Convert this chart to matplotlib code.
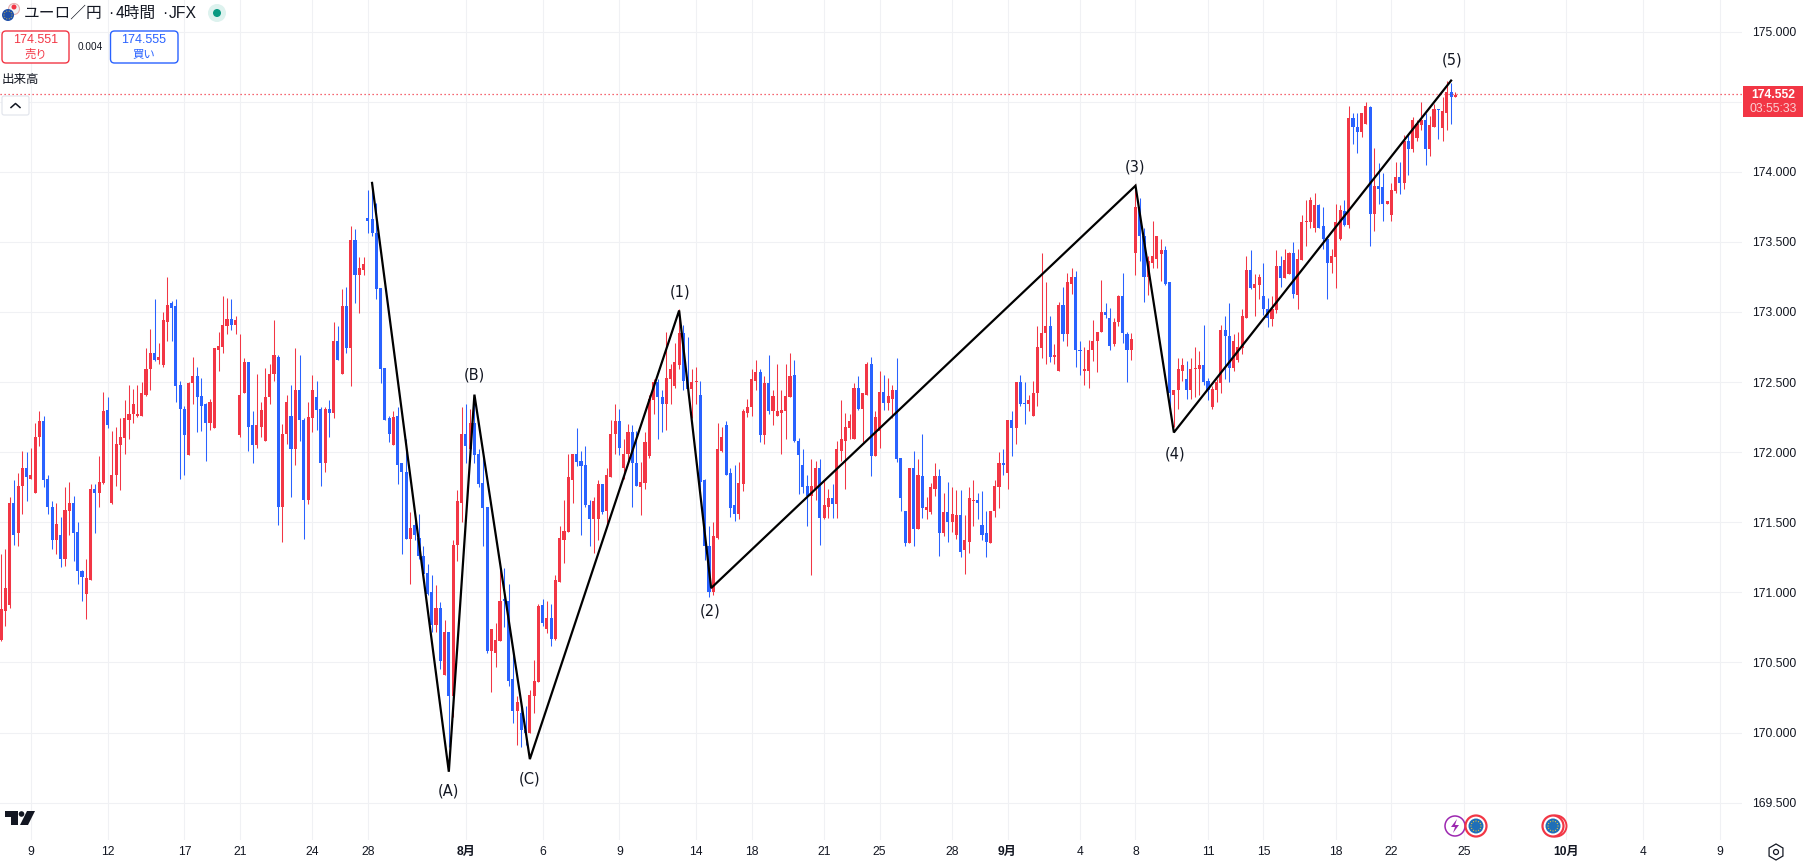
import numpy as np
import matplotlib
matplotlib.use("Agg")
import matplotlib.pyplot as plt
from matplotlib.patches import Circle, FancyBboxPatch, Polygon, Rectangle, RegularPolygon

CJK = ['Noto Sans CJK JP', 'DejaVu Sans']
LATIN = ['Liberation Sans', 'Noto Sans CJK JP']
RED = '#F23645'
BLUE = '#2962FF'
INK = '#131722'
GRID = '#F0F1F4'

directions = (
    "UUUDUUDUUU" "DDDUDUUDDD" "UUDUUDUUUU" "UUUUUUDUUU" "DDDDUUDDDU"
    "UUUUDUUUDD" "UUUUUDUUDU" "DDUUDDUDUD" "UDUDUUDDDD" "DDUDDDUDDD"
    "DDUDUDU"
    "UUDUDDDD" "UUUDDDUD" "DUUUDUDU" "UUUUDDDD" "UUDUUUDU" "UDDUUUUD"
    "DUUUUDDU" "UDDDUUUD" "DDUUUUUD" "UDUUUUUD" "DDDUUDUU" "DUUUUUD" "UUDU"
    "UDUUDDDU" "DUDUUUDU" "DUUDUUUD" "DDUUUDUD" "UDDUUUUU" "DUUDUUDD"
    "UUUUUDDU" "UDDU"
    "UDDUUUUD" "DUUUDUUU" "DDUUUDDU" "UUUDUUDD" "UUDUUDUU" "UUUDDDUU"
    "UDUDDUUD" "UDDUUUDU" "DUUUDUUD" "UUDU"
)

highs = [
    171.27,171.31,171.68,171.80,171.85,172.01,172.00,172.03,172.21,172.29,
    172.26,171.84,171.65,171.64,171.54,171.75,171.79,171.69,171.50,171.16,
    171.24,171.77,171.77,171.97,172.43,172.39,172.15,172.18,172.24,172.37,
    172.48,172.45,172.48,172.50,172.74,172.88,173.09,172.78,173.00,173.25,
    173.08,173.09,172.51,172.33,172.50,172.68,172.61,172.53,172.35,172.38,
    172.74,172.86,173.11,173.10,173.09,172.97,172.84,172.67,172.64,172.29,
    172.56,172.36,172.60,172.63,172.94,172.69,172.20,172.41,172.48,172.74,
    172.69,172.24,172.36,172.55,172.51,172.32,172.32,172.37,172.93,172.90,
    173.16,173.18,173.61,173.59,173.39,173.39,173.87,173.90,173.78,173.17,
    172.60,172.26,172.29,172.32,171.92,172.09,171.57,171.55,171.56,171.33,
    171.20,171.12,171.05,170.93,170.80,170.72,171.37,
    171.73,172.32,172.34,172.31,172.34,172.02,171.98,171.61,
    170.74,170.78,171.16,171.17,171.06,170.59,170.26,170.22,
    170.19,170.30,170.52,170.92,170.95,170.94,170.92,171.12,
    171.47,171.66,171.99,171.99,172.17,172.01,172.04,171.66,
    171.68,171.80,171.77,171.89,172.23,172.34,172.31,172.09,
    172.20,172.19,172.15,171.93,172.14,172.41,172.52,172.52,
    172.44,172.86,172.63,172.78,173.02,172.91,172.82,172.59,
    172.61,172.51,171.81,171.47,171.50,172.21,172.18,172.22,
    171.89,171.91,171.93,172.31,172.38,172.59,172.66,172.59,
    172.54,172.69,172.44,172.63,172.44,172.63,172.71,172.66,
    172.10,172.02,171.84,171.95,171.94,171.95,171.80,171.74,
    171.77,172.08,172.37,172.28,172.27,172.49,172.54,
    172.42,172.64,172.68,172.29,
    172.58,172.55,172.53,172.48,172.67,171.96,171.58,171.89,
    172.01,171.95,172.13,171.68,171.78,171.92,171.88,171.71,
    171.79,171.75,171.73,171.73,171.55,171.75,171.80,171.71,
    171.72,171.58,171.58,171.80,172.00,172.02,172.23,172.29,
    172.50,172.55,172.50,172.41,172.51,172.90,173.42,173.21,
    172.97,172.77,173.07,173.18,173.28,173.31,173.29,172.79,
    172.75,172.80,172.94,172.86,173.23,173.06,173.03,172.96,
    173.12,173.28,172.86,172.85,
    173.91,173.81,173.60,173.40,173.65,173.54,173.52,173.47,
    173.21,172.44,172.67,172.67,172.65,172.67,172.75,172.72,
    172.91,172.53,172.47,172.52,172.91,172.97,173.06,172.84,
    172.86,173.02,173.40,173.44,173.27,173.27,173.35,173.10,
    173.11,173.44,173.40,173.45,173.43,173.50,173.45,173.69,
    173.80,173.82,173.85,173.77,173.75,173.54,173.45,173.77,
    173.76,173.80,174.47,174.42,174.42,174.42,174.50,174.47,
    174.17,174.06,173.99,173.79,173.92,174.07,174.07,174.26,
    174.26,174.39,174.37,174.50,174.42,174.40,174.48,174.45,
    174.53,174.65,174.63,174.57,
]

body_tops = [
    170.88,171.03,171.64,171.64,171.76,171.89,171.89,171.84,172.11,172.22,
    172.22,171.81,171.61,171.49,171.41,171.59,171.64,171.64,171.43,171.15,
    171.10,171.74,171.74,171.79,172.29,172.30,171.84,172.06,172.11,172.24,
    172.27,172.34,172.27,172.42,172.59,172.71,172.71,172.68,172.94,173.05,
    173.06,173.04,172.48,172.31,172.49,172.54,172.54,172.40,172.34,172.36,
    172.74,172.76,172.91,172.95,172.95,172.94,172.41,172.64,172.64,172.19,
    172.19,172.30,172.39,172.56,172.69,172.68,172.13,172.36,172.26,172.44,
    172.44,172.23,172.25,172.44,172.39,172.31,172.31,172.31,172.79,172.79,
    173.04,173.04,173.51,173.51,173.31,173.34,173.67,173.66,173.56,173.17,
    172.60,172.24,172.25,172.26,171.92,171.86,171.46,171.48,171.39,171.26,
    171.14,171.00,170.89,170.89,170.72,170.72,171.34,
    171.65,172.13,172.13,172.21,172.21,171.99,171.78,171.61,
    170.74,170.66,170.94,170.95,170.94,170.38,170.22,170.14,
    170.02,170.27,170.37,170.90,170.91,170.82,170.82,171.09,
    171.39,171.44,171.82,171.99,171.99,171.94,171.91,171.62,
    171.65,171.77,171.77,171.84,172.13,172.22,172.22,171.99,
    172.14,172.14,171.92,171.79,172.07,172.38,172.50,172.50,
    172.39,172.53,172.59,172.64,172.85,172.85,172.52,172.50,
    172.51,172.41,171.80,171.33,171.40,172.02,172.11,172.19,
    171.85,171.62,171.78,172.29,172.32,172.52,172.57,172.57,
    172.49,172.49,172.40,172.29,172.30,172.40,172.54,172.55,
    172.08,171.91,171.76,171.76,171.89,171.89,171.62,171.67,
    171.67,172.02,172.09,172.18,172.22,172.46,172.46,
    172.42,172.63,172.63,172.25,
    172.43,172.43,172.40,172.44,172.44,171.96,171.58,171.89,
    171.89,171.84,171.83,171.61,171.75,171.83,171.83,171.57,
    171.57,171.56,171.55,171.55,171.37,171.67,171.66,171.66,
    171.48,171.42,171.58,171.76,171.92,171.92,172.23,172.23,
    172.50,172.50,172.35,172.37,172.42,172.75,172.85,172.90,
    172.90,172.69,173.05,173.05,173.21,173.25,173.25,172.73,
    172.59,172.73,172.79,172.86,173.00,173.00,172.96,172.93,
    173.11,173.11,172.84,172.81,
    173.75,173.75,173.54,173.36,173.40,173.54,173.44,173.44,
    173.21,172.44,172.59,172.62,172.52,172.59,172.60,172.62,
    172.62,172.51,172.45,172.50,172.87,172.87,172.83,172.79,
    172.75,172.97,173.30,173.30,173.20,173.25,173.11,173.02,
    173.02,173.33,173.33,173.37,173.42,173.42,173.38,173.64,
    173.65,173.80,173.76,173.76,173.61,173.52,173.40,173.64,
    173.73,173.72,174.38,174.38,174.32,174.42,174.47,174.46,
    173.90,173.90,173.89,173.79,173.87,173.96,173.96,174.22,
    174.22,174.37,174.34,174.37,174.37,174.33,174.45,174.45,
    174.43,174.57,174.57,174.55,
]

body_bottoms = [
    170.66,170.87,170.91,171.41,171.42,171.76,171.82,171.81,171.71,172.11,
    171.80,171.61,171.37,171.37,171.24,171.24,171.58,171.42,171.15,171.11,
    170.99,171.09,171.71,171.71,171.78,172.19,171.64,171.84,172.05,172.10,
    172.23,172.27,172.26,172.26,172.41,172.59,172.66,172.66,172.62,172.93,
    173.03,172.47,172.31,172.12,171.98,172.49,172.39,172.33,172.21,172.21,
    172.17,172.73,172.75,172.90,172.91,172.91,172.12,172.42,172.18,172.05,
    172.05,172.18,172.08,172.39,172.56,171.61,171.61,172.13,172.02,172.02,
    172.23,171.66,171.66,172.24,172.30,171.92,171.92,172.28,172.28,172.66,
    172.56,172.74,172.74,173.26,173.26,173.30,173.65,173.56,173.16,172.59,
    172.23,172.13,172.05,171.91,171.86,171.38,171.38,171.41,171.26,171.13,
    170.99,170.77,170.77,170.51,170.41,170.26,170.26,
    171.34,171.64,172.04,172.02,171.98,171.77,171.60,170.58,
    170.58,170.57,170.65,170.94,170.37,170.15,170.15,170.02,
    170.00,170.00,170.26,170.36,170.78,170.74,170.67,170.67,
    171.07,171.37,171.43,171.80,171.93,171.90,171.62,171.52,
    171.52,171.52,171.57,171.58,171.82,172.13,172.03,171.89,
    171.99,171.92,171.76,171.75,171.78,171.97,172.37,172.39,
    172.34,172.34,172.52,172.47,172.62,172.51,172.45,172.45,
    172.50,171.79,171.33,171.00,171.00,171.39,172.01,171.84,
    171.60,171.56,171.56,171.77,172.28,172.32,172.51,172.12,
    172.12,172.29,172.29,172.26,172.28,172.29,172.39,172.08,
    171.98,171.75,171.69,171.69,171.73,171.53,171.53,171.61,
    171.63,171.63,172.01,172.08,172.17,172.09,172.31,
    172.31,172.41,171.97,171.97,
    172.15,172.35,172.35,172.38,171.95,171.67,171.35,171.35,
    171.45,171.45,171.60,171.59,171.57,171.74,171.42,171.42,
    171.50,171.50,171.41,171.29,171.30,171.36,171.65,171.64,
    171.41,171.36,171.35,171.58,171.75,171.91,171.85,172.17,
    172.17,172.34,172.34,172.34,172.26,172.42,172.74,172.85,
    172.68,172.68,172.58,172.84,172.84,173.20,172.73,172.72,
    172.58,172.58,172.73,172.79,172.86,172.98,172.76,172.77,
    172.93,172.85,172.73,172.73,
    173.42,173.54,173.25,173.25,173.35,173.38,173.41,173.20,
    172.42,172.41,172.44,172.58,172.44,172.44,172.59,172.59,
    172.50,172.44,172.32,172.44,172.49,172.83,172.60,172.60,
    172.66,172.74,172.96,173.17,173.17,173.19,173.02,172.96,
    172.95,173.01,173.24,173.24,173.27,173.13,173.12,173.37,
    173.64,173.64,173.60,173.60,173.52,173.35,173.35,173.39,
    173.52,173.62,173.62,174.32,174.28,174.28,174.34,173.70,
    173.70,173.88,173.77,173.77,173.69,173.86,173.92,173.92,
    174.16,174.16,174.24,174.33,174.16,174.16,174.32,174.44,
    174.31,174.42,174.53,174.53,
]

lows = [
    170.65,170.76,170.89,171.34,171.33,171.56,171.65,171.81,171.71,172.04,
    171.75,171.56,171.31,171.27,171.18,171.19,171.41,171.22,171.06,170.94,
    170.81,171.09,171.42,171.61,171.77,172.17,171.63,171.76,171.73,171.99,
    172.09,172.21,172.25,172.26,172.40,172.44,172.65,172.63,172.61,172.79,
    172.79,172.36,171.81,171.84,171.98,172.34,172.14,172.15,171.94,172.16,
    172.17,172.58,172.71,172.84,172.87,172.84,172.11,172.42,172.01,171.92,
    172.03,172.11,172.08,172.34,172.51,171.48,171.36,172.06,171.68,171.91,
    172.08,171.38,171.63,172.14,172.16,171.76,171.86,172.11,172.24,172.66,
    172.56,172.71,172.47,173.06,172.99,173.26,173.56,173.54,173.09,172.49,
    172.23,172.07,172.05,171.77,171.27,171.38,171.06,171.37,171.24,171.12,
    170.98,170.72,170.72,170.45,170.41,169.90,170.11,
    171.22,171.50,171.92,172.02,171.92,171.75,171.33,170.57,
    170.29,170.47,170.65,170.75,170.33,170.07,169.91,169.90,
    169.91,170.00,170.14,170.36,170.76,170.71,170.62,170.66,
    171.07,171.21,171.43,171.64,171.90,171.41,171.61,171.33,
    171.28,171.37,171.56,171.47,171.82,171.99,171.98,171.81,
    171.94,171.61,171.76,171.55,171.74,171.96,172.27,172.09,
    172.14,172.16,172.34,172.46,172.59,172.44,172.40,172.24,
    172.34,171.72,171.23,170.97,170.98,171.38,172.00,171.84,
    171.54,171.51,171.52,171.72,172.25,172.26,172.44,172.07,
    172.06,172.27,172.19,172.26,171.99,172.09,172.39,172.07,
    171.70,171.71,171.47,171.12,171.66,171.34,171.52,171.53,
    171.53,171.53,171.94,171.74,172.09,172.09,172.30,
    172.07,172.41,171.83,171.97,
    172.03,172.30,172.30,172.24,171.93,171.58,171.33,171.35,
    171.33,171.45,171.53,171.52,171.56,171.69,171.26,171.40,
    171.36,171.43,171.38,171.25,171.13,171.28,171.47,171.52,
    171.37,171.25,171.35,171.54,171.60,171.84,171.74,171.97,
    172.06,172.33,172.20,172.29,172.26,172.33,172.67,172.63,
    172.64,172.63,172.58,172.79,172.76,173.13,172.61,172.55,
    172.48,172.46,172.65,172.57,172.86,172.96,172.73,172.76,
    172.90,172.78,172.50,172.66,
    173.26,173.36,173.07,173.12,173.31,173.31,173.22,173.19,
    172.27,172.18,172.31,172.51,172.38,172.38,172.39,172.41,
    172.48,172.37,172.31,172.36,172.42,172.52,172.50,172.58,
    172.64,172.70,172.96,173.16,172.97,173.09,172.98,172.89,
    172.90,172.99,173.18,173.24,173.27,173.10,173.02,173.37,
    173.47,173.60,173.57,173.60,173.45,173.09,173.28,173.17,
    173.51,173.61,173.60,174.20,174.13,174.25,174.34,173.47,
    173.58,173.77,173.65,173.77,173.65,173.85,173.84,173.88,
    173.98,174.14,174.22,174.30,174.05,174.11,174.32,174.23,
    174.22,174.30,174.34,174.53,
]

wave_index = [87, 105, 111, 124, 159, 166.5, 266, 275, 340]
wave_price = [173.92, 169.72, 172.41, 169.81, 173.01, 171.03, 173.90, 172.14, 174.65]
wave_labels = ['(A)', '(B)', '(C)', '(1)', '(2)', '(3)', '(4)', '(5)']
label_index = [105, 111.1, 124, 159.2, 166.2, 265.9, 275.3, 340.2]
label_price = [169.58, 172.55, 169.67, 173.14, 170.87, 174.03, 171.99, 174.80]

time_tick_index = [7, 25, 43, 56, 73, 86, 109, 127, 145, 163, 176, 193, 206,
                   223, 236, 253, 266, 283, 296, 313, 326, 343, 367, 385, 403]
time_tick_labels = ['9', '12', '17', '21', '24', '28', '8月', '6', '9', '14', '18', '21', '25',
                    '28', '9月', '4', '8', '11', '15', '18', '22', '25', '10月', '4', '9']
price_ticks = [169.5, 170.0, 170.5, 171.0, 171.5, 172.0, 172.5, 173.0, 173.5, 174.0, 174.5, 175.0]
last_price = 174.552
bid = '174.551'
ask = '174.555'
spread = '0.004'

W, H = 1805, 863
PLOT_W, PLOT_H = 1742, 840
PX_PER_BAR = 4.265

fig = plt.figure(figsize=(W / 100, H / 100), dpi=100, facecolor='white')
ax = fig.add_axes([0, (H - PLOT_H) / H, PLOT_W / W, PLOT_H / H])
ax.set_xlim(-1 / PX_PER_BAR, (PLOT_W - 1) / PX_PER_BAR)
ax.set_ylim(174 - (PLOT_H - 171.7) / 140.2, 174 + 171.7 / 140.2)
for s in ax.spines.values():
    s.set_visible(False)
ax.set_axisbelow(True)
ax.grid(True, color=GRID, lw=0.8)
ax.yaxis.tick_right()
ax.set_yticks(price_ticks)
# the 174.500 label sits under the live price tag, so the scale leaves it out
ax.set_yticklabels(['' if p == 174.5 else f'{p:.3f}' for p in price_ticks],
                   family=LATIN, fontsize=8.7, color=INK)
ax.set_xticks(time_tick_index)
ax.set_xticklabels(time_tick_labels, family=LATIN, fontsize=8.7, color=INK)
for lab, txt in zip(ax.get_xticklabels(), time_tick_labels):
    if '月' in txt:
        lab.set_fontweight('bold')
ax.tick_params(axis='y', length=0, pad=7.5)
ax.tick_params(axis='x', length=0, pad=4.5)

n = len(highs)
x = np.arange(n)
up = np.array([d == 'U' for d in directions[:n]])
colors = np.where(up, RED, BLUE)
tops = np.array(body_tops)
bots = np.array(body_bottoms)
wicks = ax.vlines(x, lows, highs, colors=colors, lw=0.75, zorder=3)
wicks.set_snap(True)
ax.bar(x, np.maximum(tops - bots, 0.008), bottom=bots, width=3.1 / PX_PER_BAR,
       color=colors, linewidth=0, zorder=4)

ax.axhline(last_price, color=RED, lw=0.9, ls=(0, (1, 2.2)), zorder=5)
ax.plot(wave_index, wave_price, color='black', lw=1.6, solid_joinstyle='miter', zorder=6)
for xi, yi, s in zip(label_index, label_price, wave_labels):
    ax.text(xi, yi, s, ha='center', va='center', fontsize=10.5, color=INK,
            family=['DejaVu Sans'], zorder=7)

# page furniture, in pixel coordinates
ov = fig.add_axes([0, 0, 1, 1], facecolor='none')
ov.set_xlim(0, W)
ov.set_ylim(H, 0)
ov.axis('off')


def tx(px, py, s, size, color=INK, ha='left', fam=CJK, **kw):
    ov.text(px, py, s, fontsize=size, color=color, ha=ha, va='center', family=fam, **kw)


def rbox(x0, y0, x1, y1, edge, face='white', lw=1.0, r=4):
    ov.add_patch(FancyBboxPatch((x0 + r, y0 + r), x1 - x0 - 2 * r, y1 - y0 - 2 * r,
                                boxstyle=f'round,pad={r},rounding_size={r}',
                                fc=face, ec=edge, lw=lw))


def eu_badge(cx, cy, ring=None, offset=0):
    if ring:
        if offset:
            ov.add_patch(Circle((cx + offset, cy), 10.5, fc='white', ec=ring, lw=1.4))
        ov.add_patch(Circle((cx, cy), 10.5, fc='white', ec=ring, lw=1.6))
    ov.add_patch(Circle((cx, cy), 7.5, fc='#1F6FB8', ec='none'))
    for a in np.linspace(0, 2 * np.pi, 12, endpoint=False):
        ov.add_patch(Circle((cx + 5 * np.cos(a), cy + 5 * np.sin(a)), 0.6, fc='#E8C33A', ec='none'))


ov.add_patch(Circle((14, 9), 5.5, fc='#F3F3F3', ec='#E8B0B0', lw=0.8))
ov.add_patch(Circle((14, 7), 2.5, fc=RED, ec='none'))
ov.add_patch(Circle((8, 15), 6, fc='#1F4FA8', ec='none'))
for a in np.linspace(0, 2 * np.pi, 10, endpoint=False):
    ov.add_patch(Circle((8 + 4 * np.cos(a), 15 + 4 * np.sin(a)), 0.5, fc='#E8C33A', ec='none'))
tx(24, 13, 'ユーロ／円', 11.3)
tx(108, 13, '·', 11.3, fam=LATIN)
tx(116, 13, '4時間', 11.3)
tx(162, 13, '·', 11.3, fam=LATIN)
tx(169, 13, 'JFX', 11.3, fam=LATIN)
ov.add_patch(Circle((217, 13), 9, fc='#DDF2EE', ec='none'))
ov.add_patch(Circle((217, 13), 4, fc='#089981', ec='none'))

rbox(2, 31, 69, 63, RED)
tx(35.5, 40, bid, 9, RED, 'center', LATIN)
tx(35.5, 54, '売り', 8.2, RED, 'center')
tx(90, 46.5, spread, 7.2, INK, 'center', LATIN)
rbox(110.5, 31, 178, 63, BLUE)
tx(144, 40, ask, 9, BLUE, 'center', LATIN)
tx(144, 54, '買い', 8.2, BLUE, 'center')
tx(2, 79, '出来高', 9, INK)
rbox(2, 96, 29, 115, '#E0E3EB', lw=0.8, r=2)
ov.plot([11, 15.5, 20], [107.5, 103.5, 107.5], color=INK, lw=1.1)

ov.add_patch(Rectangle((1743, 86), 60, 31, fc=RED, ec='none'))
tx(1773, 95, f'{last_price:.3f}', 8.7, 'white', 'center', LATIN, fontweight='bold')
tx(1773, 109, '03:55:33', 8.7, '#FBD0D4', 'center', LATIN)

# TradingView mark
ov.add_patch(Polygon([(5, 811), (18, 811), (18, 825), (11, 825), (11, 817), (5, 817)], fc=INK, ec='none'))
ov.add_patch(Circle((21.5, 814), 2.8, fc=INK, ec='none'))
ov.add_patch(Polygon([(27, 811), (35, 811), (28, 825), (20, 825)], fc=INK, ec='none'))

# event badges
ov.add_patch(Circle((1455, 826), 10, fc='white', ec='#9C27B0', lw=1.1))
ov.add_patch(Polygon([(1457, 819), (1451, 827), (1455, 827), (1453, 833), (1459, 825), (1455, 825)],
                     fc='#9C27B0', ec='none'))
eu_badge(1476, 826, RED)
eu_badge(1553, 826, RED, offset=3)

ov.add_patch(RegularPolygon((1776, 852), 6, radius=8, fc='white', ec=INK, lw=0.9))
ov.add_patch(Circle((1776, 852), 2.5, fc='white', ec=INK, lw=0.9))

fig.savefig('out.png', dpi=100)
